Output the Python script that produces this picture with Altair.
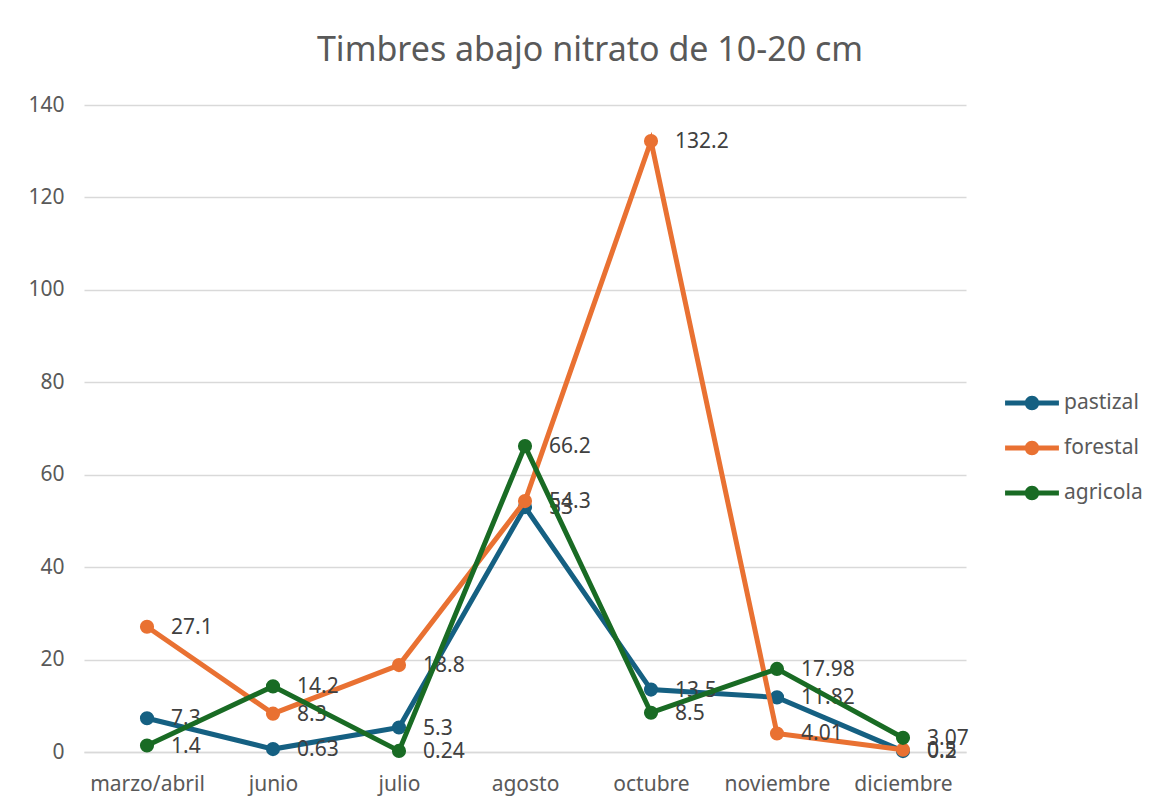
import altair as alt
import pandas as pd

months = ["marzo/abril", "junio", "julio", "agosto", "octubre", "noviembre", "diciembre"]
series = ["pastizal", "forestal", "agricola"]
pastizal = [7.3, 0.63, 5.3, 53, 13.5, 11.82, 0.2]
forestal = [27.1, 8.3, 18.8, 54.3, 132.2, 4.01, 0.5]
agricola = [1.4, 14.2, 0.24, 66.2, 8.5, 17.98, 3.07]
colors = ["#156082", "#E97132", "#196B24"]
y_ticks = [0, 20, 40, 60, 80, 100, 120, 140]

rows = []
for name, vals in zip(series, [pastizal, forestal, agricola]):
    for m, v in zip(months, vals):
        rows.append({"mes": m, "serie": name, "valor": v, "label": f"{v:g}"})
df = pd.DataFrame(rows)

FONT = "Noto Sans"
color_scale = alt.Scale(domain=series, range=colors)
x_enc = alt.X("mes:N", sort=months, title=None,
              scale=alt.Scale(paddingInner=0, paddingOuter=0.5),
              axis=alt.Axis(labelAngle=0, labelFontSize=21, labelColor="#595959",
                            labelFont=FONT, labelPadding=21, ticks=False,
                            domainColor="#d9d9d9", domainWidth=1.5, grid=False))
y_enc = alt.Y("valor:Q", title=None,
              scale=alt.Scale(domain=[0, 140], nice=False),
              axis=alt.Axis(values=y_ticks, labelFontSize=21, labelColor="#595959",
                            labelFont=FONT, labelPadding=20, ticks=False, domain=False,
                            gridColor="#d9d9d9", gridWidth=1.5))

legend_path = ("M-1,-0.09 L1,-0.09 L1,0.09 L-1,0.09 Z "
               "M-0.27,0 A0.27,0.27 0 1,1 0.27,0 A0.27,0.27 0 1,1 -0.27,0 Z")
legend = alt.Legend(title=None, orient="none", legendX=921, legendY=271,
                    symbolType=legend_path, symbolSize=2900, symbolStrokeWidth=0,
                    labelFontSize=21, labelColor="#595959", labelFont=FONT,
                    rowPadding=8, labelOffset=5, padding=0)
color_enc = alt.Color("serie:N", scale=color_scale, legend=legend)

layers = []
for name in series:
    base = alt.Chart(df).transform_filter(alt.datum.serie == name)
    line = base.mark_line(strokeWidth=5).encode(x=x_enc, y=y_enc, color=color_enc)
    pts = base.mark_circle(size=200, opacity=1).encode(x=x_enc, y=y_enc, color=color_enc)
    txt = base.mark_text(align="left", baseline="middle", dx=24, dy=1,
                         fontSize=21, font=FONT, color="#404040").encode(
        x=x_enc, y=y_enc, text="label:N")
    layers += [line, pts, txt]

chart = alt.layer(*layers).properties(
    width=882, height=647,
    autosize=alt.AutoSizeParams(type="none"),
    padding={"left": 76, "top": 97, "right": 193, "bottom": 50},
    title=alt.TitleParams("Timbres abajo nitrato de 10-20 cm", fontSize=34,
                          font=FONT, fontWeight="normal", color="#595959",
                          anchor="middle", dx=65, offset=26),
).configure_view(stroke=None).resolve_scale(color="shared")

chart.save("out.html", embed_options={"renderer": "svg", "actions": False})
